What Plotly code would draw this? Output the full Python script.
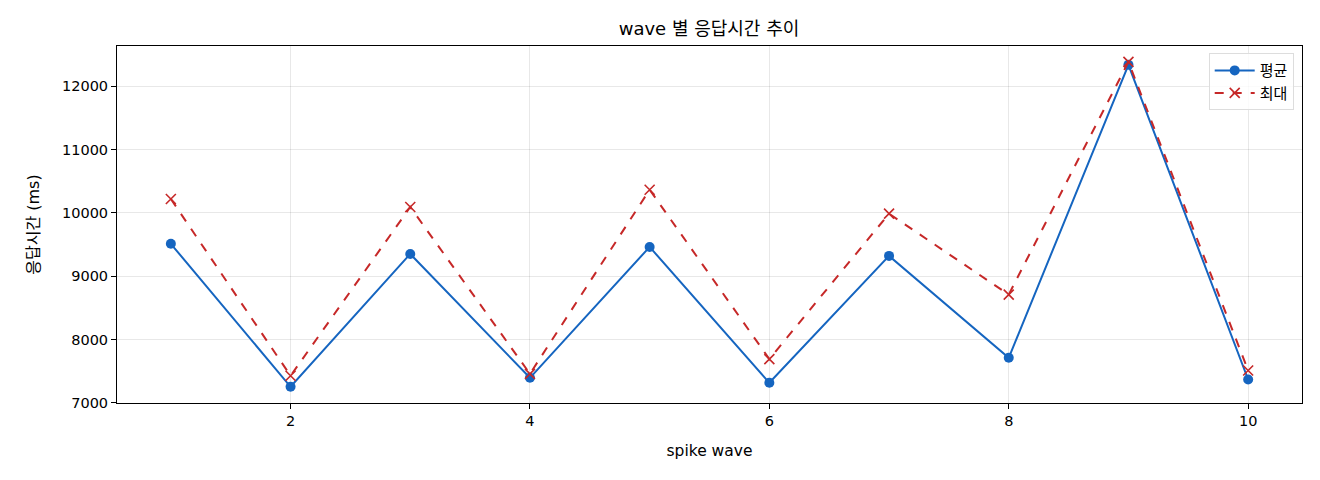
import plotly.graph_objects as go

# wave 별 응답시간 (ms)
waves = [1, 2, 3, 4, 5, 6, 7, 8, 9, 10]
avg_ms = [9510, 7252, 9350, 7394, 9461, 7315, 9319, 7710, 12336, 7367]
max_ms = [10218, 7426, 10091, 7457, 10364, 7690, 9986, 8708, 12383, 7509]

FONT = "DejaVu Sans, Noto Sans CJK KR, sans-serif"

fig = go.Figure()
fig.add_trace(go.Scatter(
    x=waves, y=avg_ms, name="평균", mode="lines+markers",
    line=dict(color="#1565c0", width=2),
    marker=dict(symbol="circle", size=10, color="#1565c0"),
))
fig.add_trace(go.Scatter(
    x=waves, y=max_ms, name="최대", mode="lines+markers",
    line=dict(color="#c62828", width=2, dash="dash"),
    marker=dict(symbol="x-thin", size=10, line=dict(color="#c62828", width=1.6)),
))

axis_style = dict(
    showline=True, linecolor="black", linewidth=1, mirror=True,
    ticks="outside", ticklen=5, tickcolor="black",
    showgrid=True, gridcolor="rgba(0,0,0,0.09)", gridwidth=1,
    zeroline=False, tickfont=dict(size=14.5, color="black"),
)

fig.update_layout(
    width=1320, height=480,
    margin=dict(l=109, r=26, t=38, b=85),
    paper_bgcolor="white", plot_bgcolor="white",
    font=dict(family=FONT, color="black"),
    title=dict(text="wave 별 응답시간 추이", x=(606 + 812) / 2 / 1320 - 8 / 1320,
               xanchor="center", y=1 - 21 / 480, yanchor="middle",
               font=dict(size=18)),
    legend=dict(x=0.993, y=0.98, xanchor="right", yanchor="top",
                bgcolor="rgba(255,255,255,0.8)", bordercolor="#dddddd",
                borderwidth=1, font=dict(size=15), itemwidth=40),
    showlegend=True,
)
fig.update_xaxes(axis_style, range=[0.55, 10.45], tickvals=[2, 4, 6, 8, 10],
                 title=dict(text="spike wave", font=dict(size=15.5), standoff=16))
fig.update_yaxes(axis_style, range=[6996, 12634], dtick=1000, tickformat="d",
                 title=dict(text="응답시간 (ms)", font=dict(size=16), standoff=18))

fig.write_html("out.html")
